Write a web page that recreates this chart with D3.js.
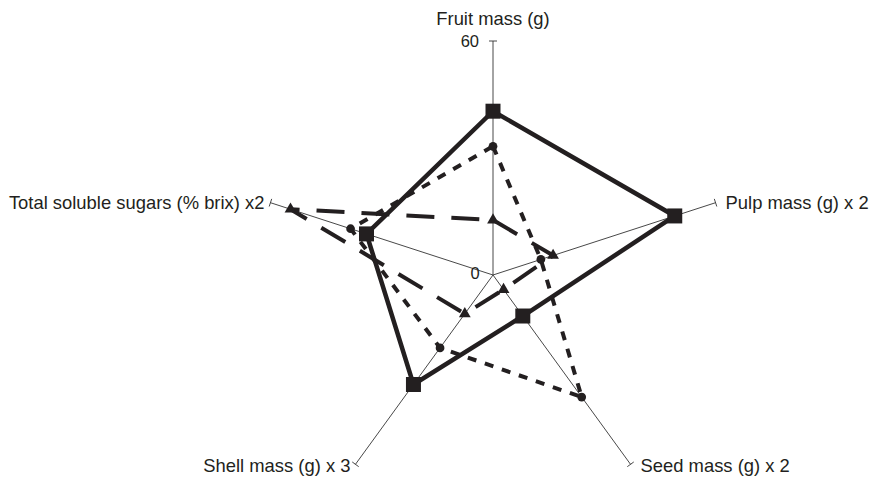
<!DOCTYPE html>
<html><head><meta charset="utf-8">
<script src="https://cdn.jsdelivr.net/npm/d3@7"></script>
<style>body{margin:0;background:#fff}svg{display:block}</style>
</head><body>
<svg id="c" width="873" height="481"></svg>
<script>
const axes = ["Fruit mass (g)", "Pulp mass (g) x 2", "Seed mass (g) x 2", "Shell mass (g) x 3", "Total soluble sugars (% brix) x2"];
const seriesSolid = [42, 49, 13, 34.7, 34.1];
const seriesShortDash = [33, 12.9, 38.7, 23.1, 38.4];
const seriesLongDash = [14.1, 16.2, 4.6, 12.3, 54.6];
const tickLabels = ["0", "60"];

const svg = d3.select("#c");
const cx = 493, cy = 275;
const r = d3.scaleLinear().domain([0, 60]).range([0, 234]);
const ang = d3.scaleLinear().domain([0, axes.length]).range([0, 2 * Math.PI]);
const ink = "#231f20";
const font = "'Liberation Sans', Arial, sans-serif";
function pt(i, v) { const a = ang(i); return [cx + r(v) * Math.sin(a), cy - r(v) * Math.cos(a)]; }

const g = svg.append("g");
axes.forEach((name, i) => {
  const [x, y] = pt(i, 60);
  g.append("line").attr("x1", cx).attr("y1", cy).attr("x2", x).attr("y2", y)
    .attr("stroke", "#333").attr("stroke-width", 0.9);
  const a = ang(i), px = Math.cos(a) * 4, py = Math.sin(a) * 4;
  g.append("line").attr("x1", x - px).attr("y1", y - py).attr("x2", x + px).attr("y2", y + py)
    .attr("stroke", "#333").attr("stroke-width", 0.9);
});
const lab = [
  {i:0, dx:0, dy:-16, anchor:"middle"},
  {i:1, dx:10, dy:6, anchor:"start"},
  {i:2, dx:10, dy:8, anchor:"start"},
  {i:3, dx:-5, dy:8, anchor:"end"},
  {i:4, dx:-6, dy:6, anchor:"end"}
];
lab.forEach(l => {
  const [x, y] = pt(l.i, 60);
  g.append("text").attr("x", x + l.dx).attr("y", y + l.dy).attr("text-anchor", l.anchor)
    .attr("font-family", font).attr("font-size", 18.4)
    .attr("fill", ink).text(axes[l.i]);
});
g.append("text").attr("x", cx - 14).attr("y", pt(0, 60)[1] + 6).attr("text-anchor", "end")
  .attr("font-family", font).attr("font-size", 16.5).attr("fill", ink).text(tickLabels[1]);
g.append("text").attr("x", cx - 18).attr("y", cy + 4).attr("text-anchor", "middle")
  .attr("font-family", font).attr("font-size", 16.5).attr("fill", ink).text(tickLabels[0]);

const line = d3.line().curve(d3.curveLinearClosed);
function drawSeries(vals, width, dash, marker) {
  const pts = vals.map((v, i) => pt(i, v));
  g.append("path").attr("d", line(pts)).attr("fill", "none").attr("stroke", ink)
    .attr("stroke-width", width).attr("stroke-dasharray", dash).attr("stroke-linejoin", "miter");
  const sym = d3.symbol().type(marker.type).size(marker.size);
  pts.forEach(p => g.append("path").attr("d", sym()).attr("transform", `translate(${p[0]},${p[1]})`).attr("fill", ink));
}
drawSeries(seriesLongDash, 4, "28,17", {type: d3.symbolTriangle, size: 60});
drawSeries(seriesShortDash, 4, "9,9", {type: d3.symbolCircle, size: 60});
drawSeries(seriesSolid, 4.5, null, {type: d3.symbolSquare, size: 225});
</script>
</body></html>
